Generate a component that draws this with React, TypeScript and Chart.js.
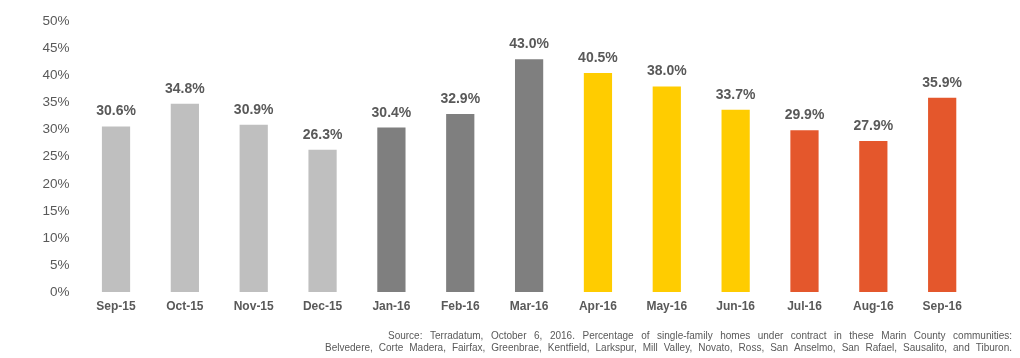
import React, { useEffect, useRef } from "react";
import { Chart, registerables } from "chart.js";

Chart.register(...registerables);

const categories = ["Sep-15", "Oct-15", "Nov-15", "Dec-15", "Jan-16", "Feb-16", "Mar-16", "Apr-16", "May-16", "Jun-16", "Jul-16", "Aug-16", "Sep-16"];
const values = [30.6, 34.8, 30.9, 26.3, 30.4, 32.9, 43.0, 40.5, 38.0, 33.7, 29.9, 27.9, 35.9];
const barColors = ["#BFBFBF", "#BFBFBF", "#BFBFBF", "#BFBFBF", "#7F7F7F", "#7F7F7F", "#7F7F7F", "#FFCC00", "#FFCC00", "#FFCC00", "#E4572C", "#E4572C", "#E4572C"];
const yMin = 0;
const yMax = 50;
const yStep = 5;
const footerLines = [
  "Source:  Terradatum,  October 6, 2016.  Percentage  of single-family homes under contract  in these  Marin County  communities:",
  "Belvedere,  Corte Madera,  Fairfax,  Greenbrae,  Kentfield,  Larkspur,  Mill Valley, Novato,  Ross,  San Anselmo,  San Rafael,  Sausalito,  and  Tiburon.",
];
const footerStarts = [388, 325];

const FONT = '"Liberation Sans", Arial, Helvetica, sans-serif';
const TEXT = "#595959";

const valueLabels = {
  id: "valueLabels",
  afterDatasetsDraw(chart: any) {
    const ctx = chart.ctx;
    const meta = chart.getDatasetMeta(0);
    ctx.save();
    ctx.font = `bold 14px ${FONT}`;
    ctx.fillStyle = TEXT;
    ctx.textAlign = "center";
    ctx.textBaseline = "alphabetic";
    meta.data.forEach((bar: any, i: number) => {
      ctx.fillText(values[i].toFixed(1) + "%", bar.x, bar.y - 11);
    });
    ctx.restore();
  },
};

const footer = {
  id: "footer",
  afterDraw(chart: any) {
    const ctx = chart.ctx;
    const right = 1012;
    ctx.save();
    ctx.font = `10px ${FONT}`;
    ctx.fillStyle = TEXT;
    ctx.textBaseline = "alphabetic";
    ctx.textAlign = "left";
    footerLines.forEach((line, li) => {
      const y = 339 + li * 12;
      const start = footerStarts[li];
      const target = right - start;
      const words = line.split(/\s+/);
      const widths = words.map((w) => ctx.measureText(w).width);
      const sum = widths.reduce((a, b) => a + b, 0);
      const space = ctx.measureText(" ").width;
      let gap = (target - sum) / (words.length - 1);
      let scale = 1;
      if (gap < space * 0.6) {
        gap = space * 0.6;
        scale = target / (sum + gap * (words.length - 1));
      }
      ctx.save();
      ctx.translate(start, y);
      ctx.scale(scale, 1);
      let x = 0;
      words.forEach((w, i) => {
        ctx.fillText(w, x, 0);
        x += widths[i] + gap;
      });
      ctx.restore();
    });
    ctx.restore();
  },
};

export default function App() {
  const ref = useRef<HTMLCanvasElement | null>(null);
  useEffect(() => {
    if (!ref.current) return;
    const chart = new Chart(ref.current, {
      type: "bar",
      data: {
        labels: categories,
        datasets: [
          {
            data: values,
            backgroundColor: barColors,
            borderWidth: 0,
            barPercentage: 0.41,
            categoryPercentage: 1,
          },
        ],
      },
      options: {
        responsive: false,
        animation: false,
        layout: { padding: { left: 0, right: 43.4, top: 21.5, bottom: 40 } },
        plugins: { legend: { display: false }, tooltip: { enabled: false } },
        scales: {
          x: {
            grid: { display: false, drawTicks: false },
            border: { display: false },
            ticks: { color: TEXT, font: { family: FONT, size: 12, weight: "bold" }, padding: 7, maxRotation: 0 },
            afterFit: (s: any) => { s.height = 26; },
          },
          y: {
            min: yMin,
            max: yMax,
            grid: { display: false, drawTicks: false },
            border: { display: false },
            ticks: { stepSize: yStep, color: TEXT, font: { family: FONT, size: 13.5 }, padding: 12, callback: (v: any) => v + "%" },
            afterFit: (s: any) => { s.width = 81.6; },
          },
        },
      },
      plugins: [valueLabels, footer],
    });
    return () => chart.destroy();
  }, []);
  return (
    <div style={{ position: "absolute", left: 0, top: 0, width: 1020, height: 358, background: "#fff" }}>
      <canvas ref={ref} width={1020} height={358} style={{ display: "block" }} />
    </div>
  );
}
